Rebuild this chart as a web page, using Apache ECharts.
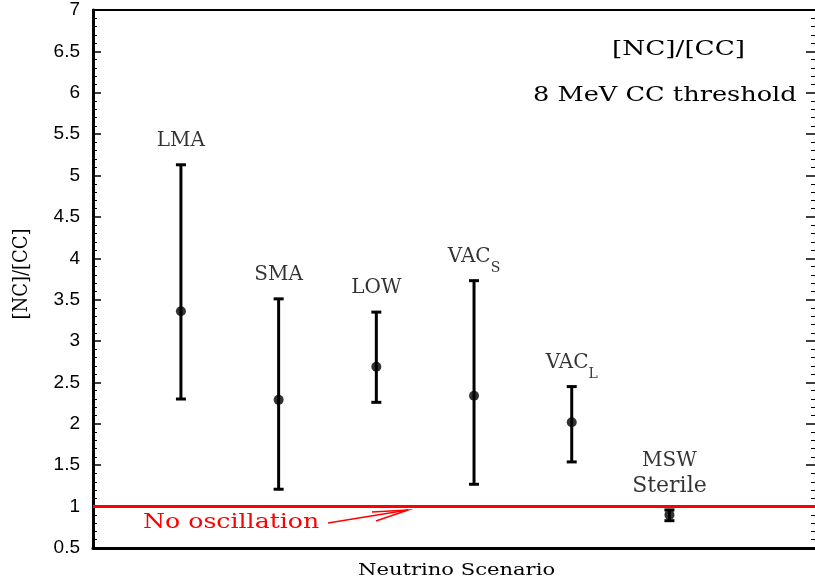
<!DOCTYPE html>
<html>
<head>
<meta charset="utf-8">
<script src="https://cdn.jsdelivr.net/npm/echarts@6/dist/echarts.min.js"></script>
<style>html,body{margin:0;padding:0;background:#fff}#c{width:815px;height:585px}</style>
</head>
<body>
<div id="c"></div>
<script>
const scenarios = ['LMA', 'SMA', 'LOW', 'VACs', 'VACl', 'MSW Sterile'];
const xPos = [1, 2, 3, 4, 5, 6];
const central = [3.36, 2.29, 2.69, 2.34, 2.02, 0.90];
const lower = [2.30, 1.21, 2.26, 1.27, 1.54, 0.83];
const upper = [5.13, 3.51, 3.35, 3.73, 2.45, 0.96];
const yTicks = [0.5, 1, 1.5, 2, 2.5, 3, 3.5, 4, 4.5, 5, 5.5, 6, 6.5, 7];
const noOscLevel = 1;

const labelTexts = {
  'LMA': '{n|LMA}',
  'SMA': '{n|SMA}',
  'LOW': '{n|LOW}',
  'VACs': '{n|VAC}{sub|S}',
  'VACl': '{n|VAC}{sub|L}',
  'MSW Sterile': '{n|MSW}\n{w|Sterile}'
};

const chart = echarts.init(document.getElementById('c'));
const serif = 'DejaVu Serif';
const wide = 'DejaVu Serif';

const option = {
  animation: false,
  grid: { left: 93, top: 10, width: 724, bottom: 37 },
  xAxis: [{
    type: 'value', min: 0.1, max: 7.49, position: 'bottom',
    axisLine: { onZero: false, lineStyle: { color: '#000', width: 3 } },
    axisTick: { show: false }, axisLabel: { show: false }, splitLine: { show: false }
  }, {
    type: 'value', min: 0.1, max: 7.49, position: 'top',
    axisLine: { onZero: false, lineStyle: { color: '#000', width: 2 } },
    axisTick: { show: false }, axisLabel: { show: false }, splitLine: { show: false }
  }],
  yAxis: [{
    type: 'value', min: 0.5, max: 7, interval: 0.5, position: 'left',
    axisLine: { onZero: false, lineStyle: { color: '#000', width: 3 } },
    axisTick: { inside: true, length: 8, lineStyle: { color: '#000', width: 1.5 } },
    minorTick: { show: true, splitNumber: 5, length: 4, lineStyle: { color: '#000', width: 1 } },
    axisLabel: { fontFamily: 'Liberation Sans', fontSize: 19, color: '#000', margin: 13,
      formatter: v => yTicks.includes(v) ? String(v) : '' },
    splitLine: { show: false }
  }, {
    type: 'value', min: 0.5, max: 7, interval: 0.5, position: 'right',
    axisLine: { show: false },
    axisTick: { inside: true, length: 9, lineStyle: { color: '#000', width: 1.5 } },
    minorTick: { show: true, splitNumber: 5, length: 4, lineStyle: { color: '#000', width: 1 } },
    axisLabel: { show: false }, splitLine: { show: false }
  }],
  series: [{
    type: 'line', data: [[0.1, noOscLevel], [7.49, noOscLevel]],
    symbol: 'none', lineStyle: { color: '#ff0000', width: 3 }, z: 1
  }, {
    type: 'custom',
    data: xPos.map((x, i) => [x, lower[i], upper[i]]),
    renderItem: function (params, api) {
      const x = api.value(0);
      const pLo = api.coord([x, api.value(1)]);
      const pHi = api.coord([x, api.value(2)]);
      const w = 5;
      const st = { stroke: '#000', lineWidth: 3 };
      return {
        type: 'group', children: [
          { type: 'line', shape: { x1: pLo[0], y1: pLo[1], x2: pHi[0], y2: pHi[1] }, style: st },
          { type: 'line', shape: { x1: pLo[0] - w, y1: pLo[1], x2: pLo[0] + w, y2: pLo[1] }, style: st },
          { type: 'line', shape: { x1: pHi[0] - w, y1: pHi[1], x2: pHi[0] + w, y2: pHi[1] }, style: st }
        ]
      };
    },
    z: 3
  }, {
    type: 'scatter', symbol: 'circle', symbolSize: 10,
    itemStyle: { color: '#000' },
    data: xPos.map((x, i) => [x, central[i]]), z: 4
  }, {
    type: 'scatter', symbol: 'circle', symbolSize: 1,
    itemStyle: { color: 'rgba(0,0,0,0)' },
    data: xPos.map((x, i) => ({ value: [x, upper[i]], name: scenarios[i] })),
    label: {
      show: true, position: 'top', distance: 11, color: '#000',
      formatter: p => labelTexts[p.name],
      rich: {
        n: { fontFamily: serif, fontSize: 20, color: '#000', lineHeight: 25 },
        w: { fontFamily: serif, fontSize: 22, color: '#000', lineHeight: 25 },
        sub: { fontFamily: serif, fontSize: 14, color: '#000', verticalAlign: 'bottom', lineHeight: 25, padding: [0, 0, -6, 0] }
      }
    },
    z: 5
  }],
  graphic: [
    { type: 'text', x: 22, y: 274, rotation: Math.PI / 2, scaleX: 0.9,
      style: { text: '[NC]/[CC]', font: '20px "' + wide + '"', fill: '#000', align: 'center', verticalAlign: 'middle' } },
    { type: 'text', left: 612, top: 39, scaleX: 1.25, style: { text: '[NC]/[CC]', font: '21px "' + wide + '"', fill: '#000' } },
    { type: 'text', left: 533, top: 85, scaleX: 1.22, style: { text: '8 MeV CC threshold', font: '21px "' + wide + '"', fill: '#000' } },
    { type: 'text', left: 143, top: 513, scaleX: 1.26, style: { text: 'No oscillation', font: '20px "' + wide + '"', fill: '#ff0000' } },
    { type: 'text', left: 358, top: 562, scaleX: 1.24, style: { text: 'Neutrino Scenario', font: '17px "' + wide + '"', fill: '#000' } },
    { type: 'polyline', shape: { points: [[328, 523], [408, 510]] }, style: { stroke: '#ff0000', lineWidth: 1.5 } },
    { type: 'polyline', shape: { points: [[372, 512], [408, 510], [376, 521]] }, style: { stroke: '#ff0000', lineWidth: 1.5, fill: null } }
  ]
};
chart.setOption(option);
</script>
</body>
</html>
